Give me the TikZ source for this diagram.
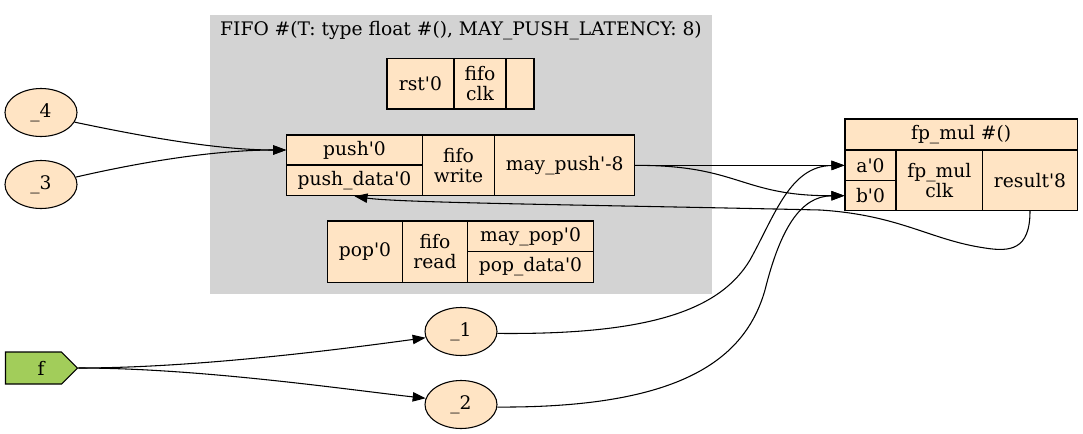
\documentclass[tikz,border=0pt]{standalone}
\usepackage{fontspec}
\setmainfont{DejaVu Serif}[Ligatures=TeXOff]
\usetikzlibrary{shapes.geometric,shapes.symbols,arrows.meta}
\definecolor{bisque}{HTML}{FFE4C4}
\definecolor{clustergray}{HTML}{D3D3D3}
\definecolor{fgreen}{HTML}{A2CD5A}
\newcommand\mkcell[6]{\node[cell, minimum width={(#4-#2)*0.75pt}, minimum height={(#5-#3)*0.75pt}] (#1) at ({(#2+#4)/2},{(#3+#5)/2}) {#6};}
\tikzset{
  txt/.style={font=\fontsize{14}{15}\selectfont},
  cell/.style={txt, draw, line width=0.8pt, fill=bisque, inner sep=0pt, align=center},
  ell/.style={txt, ellipse, draw, line width=0.8pt, fill=bisque, inner sep=0pt, minimum width=54pt, minimum height=36pt},
  conn/.style={draw, line width=0.8pt, -{Triangle[length=9.75pt,width=7pt]}},
}
\begin{document}
\begin{tikzpicture}[x=0.75pt,y=-0.75pt]
\path[use as bounding box] (0,0) rectangle (1083,433);
% cluster
\node[fill=clustergray, inner sep=0pt, minimum width={502*0.75pt}, minimum height={279*0.75pt}] (fifo) at (461,154.5) {};
\node[txt, anchor=base] (fifotitle) at (461,35.5) {FIFO \#(T: type float \#(), MAY\_PUSH\_LATENCY: 8)};
% fifo clk
\mkcell{rst}{387}{58.7}{454}{109}{rst'0}
\mkcell{fifoclk}{454}{58.7}{506}{109}{fifo\\clk}
\mkcell{rstempty}{506}{58.7}{534}{109}{}
% fifo write
\mkcell{push}{286.7}{135}{422.3}{165}{push'0}
\mkcell{pushdata}{286.7}{165}{422.3}{195.7}{push\_data'0}
\mkcell{fifowrite}{422.3}{135}{494.7}{195.7}{fifo\\write}
\mkcell{maypush}{494.7}{135}{634.7}{195.7}{may\_push'-8}
% fifo read
\mkcell{pop}{327.7}{221}{402.3}{282.3}{pop'0}
\mkcell{fiforead}{402.3}{221}{467.7}{282.3}{fifo\\read}
\mkcell{maypop}{467.7}{221}{593.3}{251.7}{may\_pop'0}
\mkcell{popdata}{467.7}{251.7}{593.3}{282.3}{pop\_data'0}
% fp_mul
\mkcell{fphead}{845}{119}{1077.3}{150}{fp\_mul \#()}
\mkcell{a}{845}{150}{896}{180.7}{a'0}
\mkcell{b}{845}{180.7}{896}{210.7}{b'0}
\mkcell{fpclk}{896}{150}{982.7}{210.7}{fp\_mul\\clk}
\mkcell{result}{982.7}{150}{1077.3}{210.7}{result'8}
% ellipses
\node[ell] (n4) at (41,112.5) {\_4};
\node[ell] (n3) at (41,184.5) {\_3};
\node[ell] (n1) at (461,331.5) {\_1};
\node[ell] (n2) at (461,404.5) {\_2};
% f
\node[txt, signal, signal to=east, signal from=nowhere, draw, line width=0.8pt, fill=fgreen, inner sep=0pt, minimum width=54pt, minimum height=24pt] (f) at (33.5,368) {\makebox[0pt]{\hspace{11.2pt}f}};
% connectors
\draw[conn] (n4.-16) .. controls (150,138) and (220,150) .. (push.west);
\draw[conn] (n3.12) .. controls (150,160) and (220,150) .. (push.west);
\draw[conn] (maypush.east) -- (a.west);
\draw[conn] (maypush.east) .. controls (740,165) and (740,196) .. (b.west);
\draw[conn] (result.south) .. controls (1030,250) and (1010,252) .. (985,248)
  .. controls (930,240) and (900,215) .. (820,210)
  .. controls (600,205) and (400,203) .. (pushdata.south);
\draw[conn] (f.east) .. controls (200,368) and (350,348) .. (n1.190);
\draw[conn] (f.east) .. controls (200,368) and (350,390) .. (n2.170);
\draw[conn] (n1.-3) .. controls (650,335) and (720,310) .. (750,260)
  .. controls (775,215) and (790,166) .. (a.west);
\draw[conn] (n2.-4) .. controls (680,408) and (745,360) .. (765,290)
  .. controls (780,230) and (800,196) .. (b.west);
\end{tikzpicture}
\end{document}
